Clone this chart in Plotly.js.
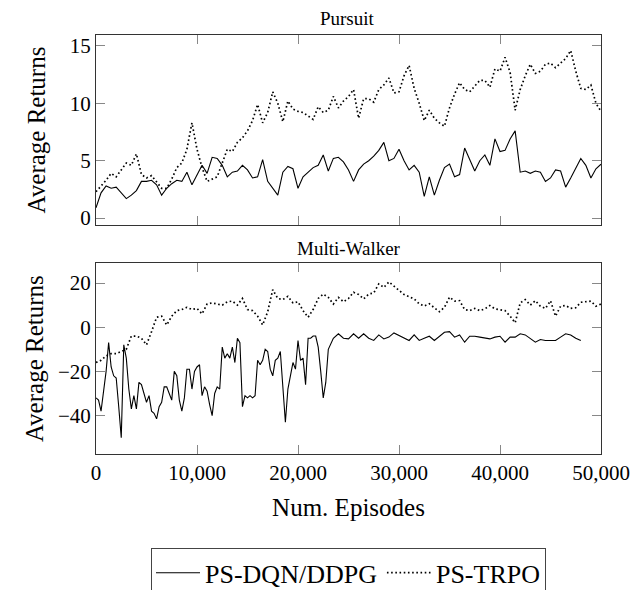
<!DOCTYPE html>
<html><head><meta charset="utf-8">
<script src="https://cdn.plot.ly/plotly-3.0.1.min.js"></script>
<style>html,body{margin:0;padding:0;background:#fff}#chart{width:633px;height:590px}</style>
</head><body><div id="chart"></div>
<script>
// Episode grids
const episodes500 = [];
for (let e = 0; e <= 50000; e += 500) episodes500.push(e);
const mwDdpgEpisodes = [];
for (let e = 0; e <= 23000; e += 250) mwDdpgEpisodes.push(e);
for (let e = 23500; e <= 48000; e += 500) mwDdpgEpisodes.push(e);

// Pursuit
const pursuitDqn = [
 0.9,2.2,2.8,2.6,2.7,2.2,1.7,2.0,2.4,3.2,
 3.2,3.3,2.9,2.0,2.6,3.0,3.3,3.2,4.0,2.9,
 3.8,4.6,3.9,5.3,5.2,4.6,3.6,4.0,4.1,4.6,
 4.2,3.5,3.6,5.1,3.2,2.6,2.0,4.0,4.5,4.3,
 2.6,3.6,4.0,4.4,4.6,5.5,4.1,5.2,5.3,4.9,
 4.2,3.2,4.2,4.7,5.0,5.4,5.9,6.6,5.0,5.2,
 6.0,5.0,4.2,4.6,4.0,1.9,3.6,2.0,3.3,4.4,
 4.7,3.6,3.8,6.1,5.1,4.1,5.0,5.5,4.6,6.9,
 5.8,5.9,6.9,7.6,4.0,4.1,3.9,4.1,4.0,3.2,
 3.5,4.2,4.1,2.7,3.5,4.3,5.2,4.6,3.5,4.3,
 4.7
];
const pursuitTrpo = [
 2.3,2.8,3.3,3.9,3.6,4.2,4.8,4.6,5.6,3.8,
 3.5,3.7,3.1,2.6,2.6,3.4,4.4,4.8,6.0,8.3,
 6.0,4.4,3.2,3.4,3.6,4.8,6.0,5.8,6.6,7.0,
 7.6,8.5,9.9,8.3,9.2,11.0,10.0,8.4,10.2,9.5,
 9.3,9.2,8.9,8.6,9.7,9.2,9.4,10.6,9.6,10.2,
 10.6,11.2,8.7,10.4,10.4,10.1,11.2,11.6,12.2,10.9,
 11.0,12.4,13.3,11.3,10.0,8.5,9.4,8.7,8.3,8.0,
 9.6,10.8,11.8,11.2,11.0,11.5,12.0,12.0,11.4,13.0,
 12.8,14.0,12.7,9.4,11.2,12.4,13.4,12.6,12.8,13.4,
 13.5,13.1,13.5,13.9,14.6,12.8,11.3,11.2,11.6,10.0,
 9.3
];

// Multi-Walker
const multiWalkerDdpg = [
 -32,-33,-38,-30,-20,-7,-18,-22,-23,-36,
 -50,-8,-14,-28,-37,-31,-37,-25,-26,-30,
 -34,-31,-38,-39,-41.5,-36,-34,-27,-27,-30,
 -33,-20,-22,-33,-38,-32,-19,-19,-28,-20,
 -18,-17,-31,-27,-29,-35,-40,-30,-27,-28,
 -9,
 -14,-12,-14,-9,-16,-5,-7,-36,-31,-32,
 -31,-32,-31,-15,-17,-15,-10,-11,-19,-22,
 -15,-14,-11,-26,-43,-28,-22,-16,-19,-6,
 -15,-14,-26,-5,-5,-4,-4,-9,-20,-32,
 -25,-10,
 -5,-3,-5,-5.3,-3.0,-5.0,-3.0,-5.0,-6.0,-3.5,
 -5.3,-4.5,-2.6,-3.8,-5.0,-6.0,-3.5,-6.0,-5.0,-4.1,
 -6.0,-4.1,-2.3,-2.0,-4.5,-3.5,-6.8,-4.1,-4.1,-4.5,
 -5.0,-5.3,-4.5,-4.1,-6.8,-4.5,-4.5,-3.0,-3.5,-5.3,
 -6.8,-5.6,-6.0,-6.0,-6.0,-4.5,-3.0,-3.5,-5.0,-6.0
];
const multiWalkerTrpo = [
 -16,-15,-13,-12,-12,-11,-10,-4,-4,-5,
 -8,-2,4.5,5,1,5,7.5,8,9,8,
 8.5,6,10.5,11,10.5,10,11.5,11.8,10,13,
 8,7.5,5,1,7,17,13,12.5,14,11,
 11.5,7.5,4.5,8,13,15,13.5,10.5,13.5,11.5,
 13,15.8,14.8,12.8,15,15.5,19.6,18,20.5,18.5,
 16.5,14.8,13.8,12.8,10.6,9.6,10.6,9,7,9,
 13.6,11.8,12,8,7.5,8.5,7.5,8.3,9.8,8.3,
 8,7.5,5,2,11,12.5,10,12,9.5,8.5,
 12,5,9.5,9.8,8.5,8.8,11.3,11.5,11.8,9.5,
 10.5
];

const seriesNames = ['PS-DQN/DDPG', 'PS-TRPO'];
const xTicks = [0, 10000, 20000, 30000, 40000, 50000];

const FONT = 'Liberation Serif, Times New Roman, serif';
const solid = {color: '#000', width: 1.1, dash: 'solid'};
const dotted = {color: '#000', width: 1.7, dash: '1.6px,2.6px'};

const traces = [
  {x: episodes500, y: pursuitDqn, xaxis: 'x', yaxis: 'y', mode: 'lines', line: solid, name: seriesNames[0], legendgroup: 'a'},
  {x: episodes500, y: pursuitTrpo, xaxis: 'x', yaxis: 'y', mode: 'lines', line: dotted, name: seriesNames[1], legendgroup: 'b'},
  {x: mwDdpgEpisodes, y: multiWalkerDdpg, xaxis: 'x2', yaxis: 'y2', mode: 'lines', line: solid, name: seriesNames[0], legendgroup: 'a', showlegend: false},
  {x: episodes500, y: multiWalkerTrpo, xaxis: 'x2', yaxis: 'y2', mode: 'lines', line: dotted, name: seriesNames[1], legendgroup: 'b', showlegend: false}
];

const axisCommon = {
  showline: true, linecolor: '#333', linewidth: 1, mirror: 'allticks',
  ticks: 'inside', ticklen: 9, tickcolor: '#888', tickwidth: 1,
  showgrid: false, zeroline: false,
  tickfont: {family: FONT, size: 21, color: '#000'}
};

const layout = {
  width: 633, height: 590,
  margin: {l: 96, r: 32, t: 35, b: 136, pad: 0, autoexpand: false},
  paper_bgcolor: '#fff', plot_bgcolor: '#fff',
  font: {family: FONT, size: 19, color: '#000'},
  title: {text: 'Pursuit', font: {family: FONT, size: 19, color: '#000'}, x: 0.548, xanchor: 'center', y: 0.969, yanchor: 'middle', xref: 'container', yref: 'container'},
  showlegend: true,
  legend: {orientation: 'h', x: 0.5, xanchor: 'center', y: -0.225, yanchor: 'top',
    bordercolor: '#444', borderwidth: 1, bgcolor: '#fff', itemwidth: 44,
    font: {family: FONT, size: 26, color: '#000'}},
  xaxis: Object.assign({}, axisCommon, {domain: [0, 1], anchor: 'y', range: [0, 50000], tickvals: xTicks, showticklabels: false}),
  yaxis: Object.assign({}, axisCommon, {domain: [0.5465, 1], anchor: 'x', range: [-0.6, 15.95], dtick: 5, tick0: 0,
    title: {text: 'Average Returns', font: {family: FONT, size: 25, color: '#000'}, standoff: 17}}),
  xaxis2: Object.assign({}, axisCommon, {domain: [0, 1], anchor: 'y2', range: [0, 50000], tickvals: xTicks, tickformat: ',',
    title: {text: 'Num. Episodes', font: {family: FONT, size: 25, color: '#000'}, standoff: 14}}),
  yaxis2: Object.assign({}, axisCommon, {domain: [0, 0.455], anchor: 'x2', range: [-57.4, 28.9], dtick: 20, tick0: 0,
    title: {text: 'Average Returns', font: {family: FONT, size: 25, color: '#000'}, standoff: 7}}),
  annotations: [
    {text: 'Multi-Walker', xref: 'paper', yref: 'paper', x: 0.5, y: 0.4916, xanchor: 'center', yanchor: 'middle', showarrow: false,
     font: {family: FONT, size: 19, color: '#000'}}
  ]
};

Plotly.newPlot('chart', traces, layout, {displayModeBar: false, staticPlot: true});
</script>
</body></html>
